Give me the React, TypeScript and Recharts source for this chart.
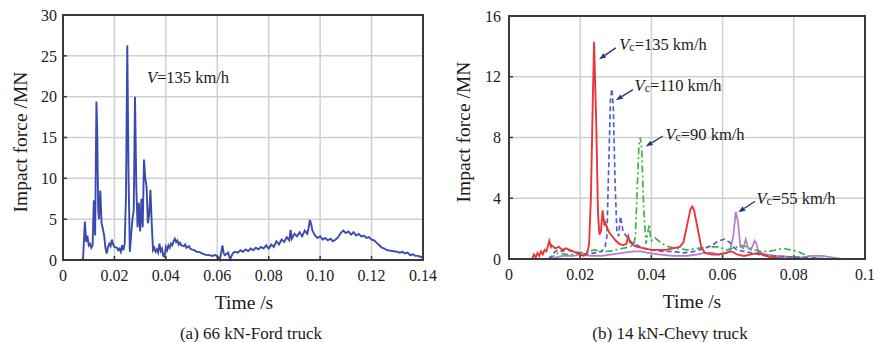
import React from 'react'
import { LineChart, Line, XAxis, YAxis, CartesianGrid, ReferenceArea, ReferenceLine } from 'recharts'

// (a) 66 kN-Ford truck, V=135 km/h
const fordTime = [
  0, 0.007, 0.0078, 0.0085, 0.009, 0.0095, 0.01, 0.0105, 0.011, 0.0115, 0.012, 0.0125, 0.013, 0.0133, 0.0137,
  0.014, 0.0145, 0.015, 0.0155, 0.016, 0.0165, 0.017, 0.0175, 0.018, 0.0185, 0.019, 0.0195, 0.02, 0.021,
  0.0215, 0.022, 0.0225, 0.023, 0.0235, 0.024, 0.0245, 0.025, 0.0255, 0.026, 0.0265, 0.027, 0.0275, 0.028,
  0.0285, 0.029, 0.0295, 0.03, 0.0305, 0.031, 0.0315, 0.032, 0.0325, 0.033, 0.0335, 0.034, 0.0345, 0.035,
  0.0355, 0.036, 0.0365, 0.037, 0.0375, 0.038, 0.0385, 0.039, 0.0395, 0.04, 0.0405, 0.041, 0.0415, 0.042,
  0.0425, 0.043, 0.0435, 0.044, 0.0445, 0.045, 0.0455, 0.046, 0.047, 0.0475, 0.048, 0.049, 0.0495, 0.05,
  0.051, 0.052, 0.053, 0.054, 0.055, 0.056, 0.057, 0.058, 0.059, 0.06, 0.061, 0.062, 0.0625, 0.063, 0.0642,
  0.065, 0.066, 0.0668, 0.068, 0.069, 0.07, 0.071, 0.072, 0.073, 0.074, 0.075, 0.076, 0.077, 0.078, 0.079,
  0.08, 0.081, 0.082, 0.083, 0.084, 0.085, 0.086, 0.087, 0.088, 0.0885, 0.089, 0.09, 0.091, 0.092, 0.093,
  0.094, 0.095, 0.0955, 0.096, 0.0965, 0.097, 0.098, 0.099, 0.1, 0.101, 0.102, 0.103, 0.104, 0.105, 0.106,
  0.107, 0.108, 0.109, 0.11, 0.111, 0.112, 0.113, 0.114, 0.115, 0.116, 0.117, 0.118, 0.119, 0.12, 0.121,
  0.122, 0.123, 0.124, 0.125, 0.126, 0.128, 0.13, 0.131, 0.132, 0.133, 0.134, 0.135, 0.136, 0.137, 0.138,
  0.139, 0.14,
]
const fordForce = [
  0, 0, 0.1, 4.7, 2.2, 3.0, 1.8, 2.0, 1.5, 1.8, 7.3, 3.0, 19.4, 16.0, 6.0,
  5.0, 8.5, 4.5, 3.8, 3.0, 1.5, 0.8, 1.6, 2.0, 1.7, 2.5, 1.9, 1.6, 1.5,
  1.2, 1.4, 1.0, 1.8, 1.2, 2.0, 8.0, 26.3, 10.0, 1.0, 3.0, 5.0, 6.0, 20.0,
  9.0, 4.0, 7.0, 3.5, 7.5, 4.0, 12.3, 10.0, 9.0, 4.5, 5.5, 8.6, 4.5, 1.2,
  1.5, 1.0, 1.3, 0.9, 2.0, 1.1, 1.4, 0.5, 0.4, 1.6, 1.2, 1.8, 1.5, 2.0,
  1.8, 2.3, 2.6, 2.2, 2.4, 1.9, 2.1, 1.8, 1.7, 1.9, 1.5, 1.7, 1.4, 1.3,
  1.2, 1.0, 1.0, 0.8, 0.7, 0.6, 0.6, 0.5, 0.6, 0.5, 0.0, 1.8, 0.8, 0.6, 0.9,
  0.1, 0.8, 1.0, 0.9, 1.2, 1.0, 1.3, 1.1, 1.4, 1.2, 1.5, 1.3, 1.6, 1.4, 1.8,
  1.4, 1.9, 1.6, 2.3, 1.9, 2.5, 2.2, 2.8, 2.4, 3.7, 2.6, 3.2, 2.9, 3.4, 2.9,
  3.6, 3.2, 3.9, 4.9, 4.4, 3.6, 3.0, 2.7, 2.9, 2.5, 2.7, 2.4, 2.6, 2.3, 2.5,
  2.8, 3.3, 3.6, 3.3, 3.5, 3.1, 3.4, 3.0, 3.2, 2.9, 3.0, 2.7, 2.8, 2.5, 2.4,
  2.1, 1.8, 1.5, 1.4, 1.2, 1.1, 1.0, 0.9, 1.0, 0.8, 0.9, 0.6, 0.7, 0.5, 0.5,
  0.4, 0.3,
]
const fordTicksX = [0, 0.02, 0.04, 0.06, 0.08, 0.1, 0.12, 0.14]
const fordTicksY = [0, 5, 10, 15, 20, 25, 30]

// (b) 14 kN-Chevy truck, four impact speeds
const t135 = [
  0.005, 0.0065, 0.007, 0.0075, 0.008, 0.0085, 0.009, 0.0095, 0.01, 0.0105, 0.011, 0.0113, 0.0118, 0.012,
  0.013, 0.014, 0.015, 0.016, 0.017, 0.018, 0.019, 0.02, 0.021, 0.022, 0.0225, 0.023, 0.0235, 0.0239, 0.0245,
  0.025, 0.0254, 0.0258, 0.0263, 0.0268, 0.027, 0.028, 0.029, 0.03, 0.031, 0.032, 0.033, 0.0335, 0.034, 0.035,
  0.036, 0.038, 0.04, 0.042, 0.044, 0.046, 0.048, 0.049, 0.05, 0.051, 0.0515, 0.052, 0.053, 0.054, 0.055,
  0.057, 0.059, 0.061, 0.062, 0.063, 0.064, 0.066, 0.068, 0.07, 0.072, 0.074, 0.076, 0.08, 0.085,
]
const f135 = [
  0, 0, 0.3, 0.1, 0.4, 0.2, 0.5, 0.3, 0.6, 0.5, 0.9, 1.2, 0.8, 0.9,
  0.7, 0.8, 0.6, 0.7, 0.6, 0.5, 0.4, 0.3, 0.2, 0.4, 1.0, 4.0, 10.0, 14.3, 9.0,
  3.0, 1.6, 1.8, 3.2, 2.2, 2.4, 1.8, 1.5, 1.2, 1.0, 0.9, 1.0, 1.5, 1.1, 0.9,
  0.8, 0.7, 0.6, 0.6, 0.6, 0.7, 0.8, 1.1, 2.2, 3.3, 3.45, 3.2, 2.0, 0.8, 0.4,
  0.3, 0.3, 0.4, 0.5, 0.45, 0.3, 0.2, 0.3, 0.4, 0.2, 0.1, 0.05, 0, 0,
]
const t110 = [
  0.011, 0.012, 0.013, 0.014, 0.015, 0.016, 0.018, 0.02, 0.022, 0.024, 0.026, 0.027, 0.0275, 0.028, 0.0285,
  0.0289, 0.0293, 0.0298, 0.0303, 0.0308, 0.0313, 0.0318, 0.032, 0.033, 0.034, 0.035, 0.036, 0.038, 0.04,
  0.043, 0.046, 0.049, 0.052, 0.055, 0.057, 0.059, 0.0605, 0.062, 0.063, 0.064, 0.066, 0.068, 0.07, 0.074,
  0.078, 0.082, 0.086, 0.09,
]
const f110 = [
  0, 0.2, 0.5, 0.6, 0.5, 0.6, 0.5, 0.4, 0.3, 0.4, 0.5, 0.8, 1.5, 6.0, 10.5,
  11.2, 10.0, 5.0, 1.8, 1.5, 2.8, 2.2, 1.8, 1.5, 1.2, 1.0, 0.9, 0.7, 0.6,
  0.5, 0.5, 0.4, 0.5, 0.7, 0.9, 1.2, 1.3, 1.1, 0.8, 0.6, 0.5, 0.4, 0.3, 0.2,
  0.15, 0.1, 0.05, 0,
]
const t90 = [
  0.011, 0.012, 0.013, 0.014, 0.016, 0.018, 0.02, 0.022, 0.024, 0.026, 0.028, 0.03, 0.032, 0.034, 0.035,
  0.0355, 0.036, 0.0365, 0.0369, 0.0373, 0.0378, 0.0385, 0.0394, 0.0398, 0.04, 0.041, 0.042, 0.043, 0.045,
  0.047, 0.05, 0.053, 0.056, 0.059, 0.061, 0.063, 0.065, 0.067, 0.069, 0.071, 0.073, 0.075, 0.077, 0.079,
  0.081, 0.083, 0.085, 0.088,
]
const f90 = [
  0, 0.1, 0.3, 0.4, 0.3, 0.3, 0.4, 0.5, 0.6, 0.5, 0.5, 0.6, 0.7, 0.8, 0.9,
  1.5, 4.5, 7.5, 8.0, 7.2, 3.5, 1.0, 2.3, 1.4, 1.2, 1.4, 1.2, 1.0, 0.8,
  0.7, 0.6, 0.7, 0.8, 0.8, 0.6, 0.7, 0.9, 0.8, 0.6, 0.5, 0.5, 0.6, 0.7, 0.6,
  0.5, 0.3, 0.1, 0,
]
const t55 = [
  0.012, 0.013, 0.015, 0.018, 0.02, 0.023, 0.026, 0.029, 0.032, 0.035, 0.037, 0.039, 0.042, 0.046, 0.05,
  0.053, 0.055, 0.057, 0.059, 0.061, 0.062, 0.063, 0.0637, 0.0643, 0.065, 0.0658, 0.0665, 0.0672, 0.068,
  0.069, 0.0695, 0.07, 0.072, 0.075, 0.078, 0.082, 0.085, 0.088, 0.091, 0.094,
]
const f55 = [
  0, 0.1, 0.2, 0.2, 0.3, 0.2, 0.2, 0.3, 0.4, 0.5, 0.5, 0.4, 0.3, 0.2, 0.2,
  0.3, 0.4, 0.4, 0.3, 0.4, 0.5, 1.5, 3.1, 2.5, 0.8, 0.7, 1.3, 0.7, 0.6,
  1.2, 1.0, 0.5, 0.3, 0.2, 0.15, 0.1, 0.2, 0.2, 0.1, 0,
]
const chevyTicksX = [0, 0.02, 0.04, 0.06, 0.08, 0.1]
const chevyTicksY = [0, 4, 8, 12, 16]

// arrow annotations: [tail, head] in data units
const arrows135 = [{ x: 0.03, y: 13.9 }, { x: 0.0253, y: 13.15 }]
const arrows110 = [{ x: 0.0348, y: 11.15 }, { x: 0.03, y: 10.45 }]
const arrows90 = [{ x: 0.0432, y: 8.1 }, { x: 0.0384, y: 7.4 }]
const arrows55 = [{ x: 0.0691, y: 3.8 }, { x: 0.0644, y: 3.07 }]

const zip = (ts: number[], fs: number[]) => ts.map((t, i) => ({ t, f: fs[i] }))

const fordData = zip(fordTime, fordForce)
const d135 = zip(t135, f135)
const d110 = zip(t110, f110)
const d90 = zip(t90, f90)
const d55 = zip(t55, f55)

const FONT = "'Liberation Serif', 'Times New Roman', serif"
const GRID = '#cfcfcf'
const FRAME = '#3a3a3a'
const tickStyle = { fontFamily: FONT, fontSize: 16, fill: '#222' }

const fmtFord = (v: number) => (v === 0 ? '0' : v.toFixed(2))
const fmtChevy = (v: number) => (v === 0 ? '0' : String(v))

const Arrow = (p: any) => {
  const { x1, y1, x2, y2 } = p
  const a = Math.atan2(y2 - y1, x2 - x1)
  const L = 7
  const w = 2.6
  const bx = x2 - L * Math.cos(a)
  const by = y2 - L * Math.sin(a)
  const px = -Math.sin(a) * w
  const py = Math.cos(a) * w
  return (
    <g>
      <line x1={x1} y1={y1} x2={bx} y2={by} stroke="#2b3a6e" strokeWidth={1.4} />
      <polygon points={`${x2},${y2} ${bx + px},${by + py} ${bx - px},${by - py}`} fill="#2b3a6e" />
    </g>
  )
}

const abs = (x: number, y: number, extra: React.CSSProperties = {}): React.CSSProperties => ({
  position: 'absolute',
  left: x,
  top: y,
  transform: 'translate(-50%, -50%)',
  whiteSpace: 'nowrap',
  lineHeight: 1,
  fontFamily: FONT,
  color: '#1a1a1a',
  ...extra,
})

const Vc = ({ v }: { v: string }) => (
  <>
    <i>V</i>
    <span style={{ fontSize: '0.72em', position: 'relative', top: 1 }}>c</span>={v} km/h
  </>
)

export default function App() {
  return (
    <div style={{ position: 'absolute', left: 0, top: 0, width: 878, height: 342, background: '#fff', fontFamily: FONT }}>
      <div style={{ position: 'absolute', left: 0, top: 0 }}>
        <LineChart width={440} height={342} data={fordData} margin={{ top: 15, right: 17, bottom: 0, left: 0 }}>
          <CartesianGrid stroke={GRID} strokeWidth={1.5} />
          <XAxis
            dataKey="t"
            type="number"
            domain={[0, 0.14]}
            ticks={fordTicksX}
            tickFormatter={fmtFord}
            height={82}
            tick={tickStyle}
            tickSize={-4}
            tickMargin={14}
            tickLine={{ stroke: FRAME, strokeWidth: 1.5 }}
            axisLine={{ stroke: FRAME, strokeWidth: 2 }}
          />
          <YAxis
            type="number"
            domain={[0, 30]}
            ticks={fordTicksY}
            width={63}
            tick={tickStyle}
            tickSize={-4}
            tickMargin={10}
            tickLine={{ stroke: FRAME, strokeWidth: 1.5 }}
            axisLine={{ stroke: FRAME, strokeWidth: 2 }}
          />
          <ReferenceArea x1={0} x2={0.14} y1={0} y2={30} fill="none" stroke={FRAME} strokeWidth={2} />
          <Line dataKey="f" type="linear" stroke="#3b4aae" strokeWidth={1.9} dot={false} isAnimationActive={false} />
        </LineChart>
      </div>

      <div style={{ position: 'absolute', left: 440, top: 0 }}>
        <LineChart width={438} height={342} margin={{ top: 16, right: 13, bottom: 0, left: 0 }}>
          <CartesianGrid stroke={GRID} strokeWidth={1.5} />
          <XAxis
            dataKey="t"
            type="number"
            domain={[0, 0.1]}
            ticks={chevyTicksX}
            tickFormatter={fmtChevy}
            height={83}
            tick={tickStyle}
            tickSize={-4}
            tickMargin={14}
            tickLine={{ stroke: FRAME, strokeWidth: 1.5 }}
            axisLine={{ stroke: FRAME, strokeWidth: 2 }}
            allowDuplicatedCategory={false}
          />
          <YAxis
            type="number"
            domain={[0, 16]}
            ticks={chevyTicksY}
            width={69}
            tick={tickStyle}
            tickSize={-4}
            tickMargin={12}
            tickLine={{ stroke: FRAME, strokeWidth: 1.5 }}
            axisLine={{ stroke: FRAME, strokeWidth: 2 }}
          />
          <ReferenceArea x1={0} x2={0.1} y1={0} y2={16} fill="none" stroke={FRAME} strokeWidth={2} />
          <Line data={d55} dataKey="f" type="linear" stroke="#b57ccb" strokeWidth={1.7} dot={false} isAnimationActive={false} />
          <Line data={d90} dataKey="f" type="linear" stroke="#3cb54c" strokeWidth={1.7} strokeDasharray="7 3 2 3" dot={false} isAnimationActive={false} />
          <Line data={d110} dataKey="f" type="linear" stroke="#5560c4" strokeWidth={1.7} strokeDasharray="5 3" dot={false} isAnimationActive={false} />
          <Line data={d135} dataKey="f" type="linear" stroke="#e8363a" strokeWidth={1.9} dot={false} isAnimationActive={false} />
          <ReferenceLine segment={arrows135} shape={Arrow} />
          <ReferenceLine segment={arrows110} shape={Arrow} />
          <ReferenceLine segment={arrows90} shape={Arrow} />
          <ReferenceLine segment={arrows55} shape={Arrow} />
        </LineChart>
      </div>

      {/* axis titles and captions */}
      <div style={abs(21, 142, { fontSize: 19.5, transform: 'translate(-50%, -50%) rotate(-90deg)' })}>Impact force /MN</div>
      <div style={abs(464, 132, { fontSize: 19.5, transform: 'translate(-50%, -50%) rotate(-90deg)' })}>Impact force /MN</div>
      <div style={abs(244, 303, { fontSize: 19.5 })}>Time /s</div>
      <div style={abs(692, 302, { fontSize: 19.5 })}>Time /s</div>
      <div style={abs(251, 333, { fontSize: 17 })}>(a) 66 kN-Ford truck</div>
      <div style={abs(670, 333, { fontSize: 17 })}>(b) 14 kN-Chevy truck</div>

      {/* annotations */}
      <div style={abs(188, 78, { fontSize: 16.5 })}><i>V</i>=135 km/h</div>
      <div style={abs(663, 45, { fontSize: 16.5 })}><Vc v="135" /></div>
      <div style={abs(678, 86, { fontSize: 16.5 })}><Vc v="110" /></div>
      <div style={abs(705, 135, { fontSize: 16.5 })}><Vc v="90" /></div>
      <div style={abs(796, 199, { fontSize: 16.5 })}><Vc v="55" /></div>
    </div>
  )
}
